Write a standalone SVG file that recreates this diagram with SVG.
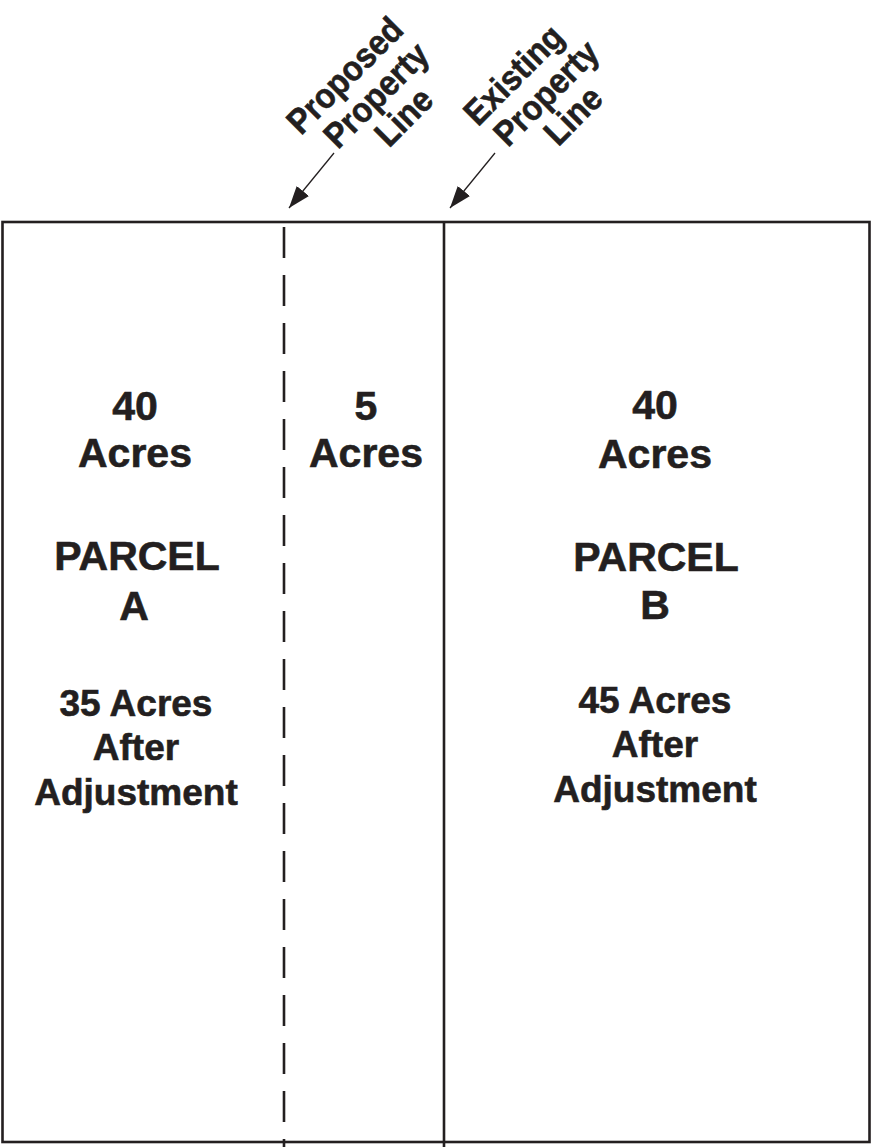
<svg xmlns="http://www.w3.org/2000/svg" width="871" height="1147" viewBox="0 0 871 1147">
<defs>
<style>
.ln{stroke:#231f20;fill:none}
.t{font-family:"Liberation Sans",Arial,sans-serif;font-weight:bold;fill:#231f20;stroke:#231f20;stroke-width:0.6;text-anchor:middle}
.big{font-size:41px}
.sm{font-size:37px}
.rot{font-size:35px}
</style>
<marker id="ah" markerUnits="userSpaceOnUse" markerWidth="24" markerHeight="18" refX="22" refY="8" orient="auto">
<path d="M0,0 L22,8 L0,16 Z" fill="#231f20"/>
</marker>
</defs>
<rect x="0" y="0" width="871" height="1147" fill="#fff"/>
<g id="connectors">
<line class="ln" x1="334" y1="153" x2="289" y2="208" stroke-width="1.3" marker-end="url(#ah)"/>
<line class="ln" x1="495" y1="153" x2="450" y2="208" stroke-width="1.3" marker-end="url(#ah)"/>
</g>
<g id="boundary">
<rect class="ln" x="2.5" y="222" width="867" height="920" stroke-width="2.6"/>
<line class="ln" x1="284" y1="227" x2="284" y2="1147" stroke-width="2.6" stroke-dasharray="31 17"/>
<line class="ln" x1="444" y1="222" x2="444" y2="1147" stroke-width="2.6"/>
</g>
<g id="label-proposed" transform="translate(384.5,103.5) rotate(-45) scale(0.914,1)">
<text class="t rot" x="-9" y="-36">Proposed</text>
<text class="t rot" x="0" y="0">Property</text>
<text class="t rot" x="4.5" y="35">Line</text>
</g>
<g id="label-existing" transform="translate(554.5,101.5) rotate(-45) scale(0.914,1)">
<text class="t rot" x="-11" y="-36">Existing</text>
<text class="t rot" x="0" y="0">Property</text>
<text class="t rot" x="3.5" y="35">Line</text>
</g>
<g id="parcel-a">
<text class="t big" x="135" y="420">40</text>
<text class="t big" x="135" y="467">Acres</text>
<text class="t big" x="137" y="570">PARCEL</text>
<text class="t big" x="134" y="620">A</text>
<text class="t sm" x="136" y="716">35 Acres</text>
<text class="t sm" x="136" y="760">After</text>
<text class="t sm" x="136" y="805">Adjustment</text>
</g>
<g id="strip">
<text class="t big" x="366" y="420">5</text>
<text class="t big" x="366" y="467">Acres</text>
</g>
<g id="parcel-b">
<text class="t big" x="655" y="419">40</text>
<text class="t big" x="655" y="468">Acres</text>
<text class="t big" x="656" y="571">PARCEL</text>
<text class="t big" x="655" y="619">B</text>
<text class="t sm" x="655" y="713">45 Acres</text>
<text class="t sm" x="655" y="757">After</text>
<text class="t sm" x="655" y="802">Adjustment</text>
</g>
</svg>
